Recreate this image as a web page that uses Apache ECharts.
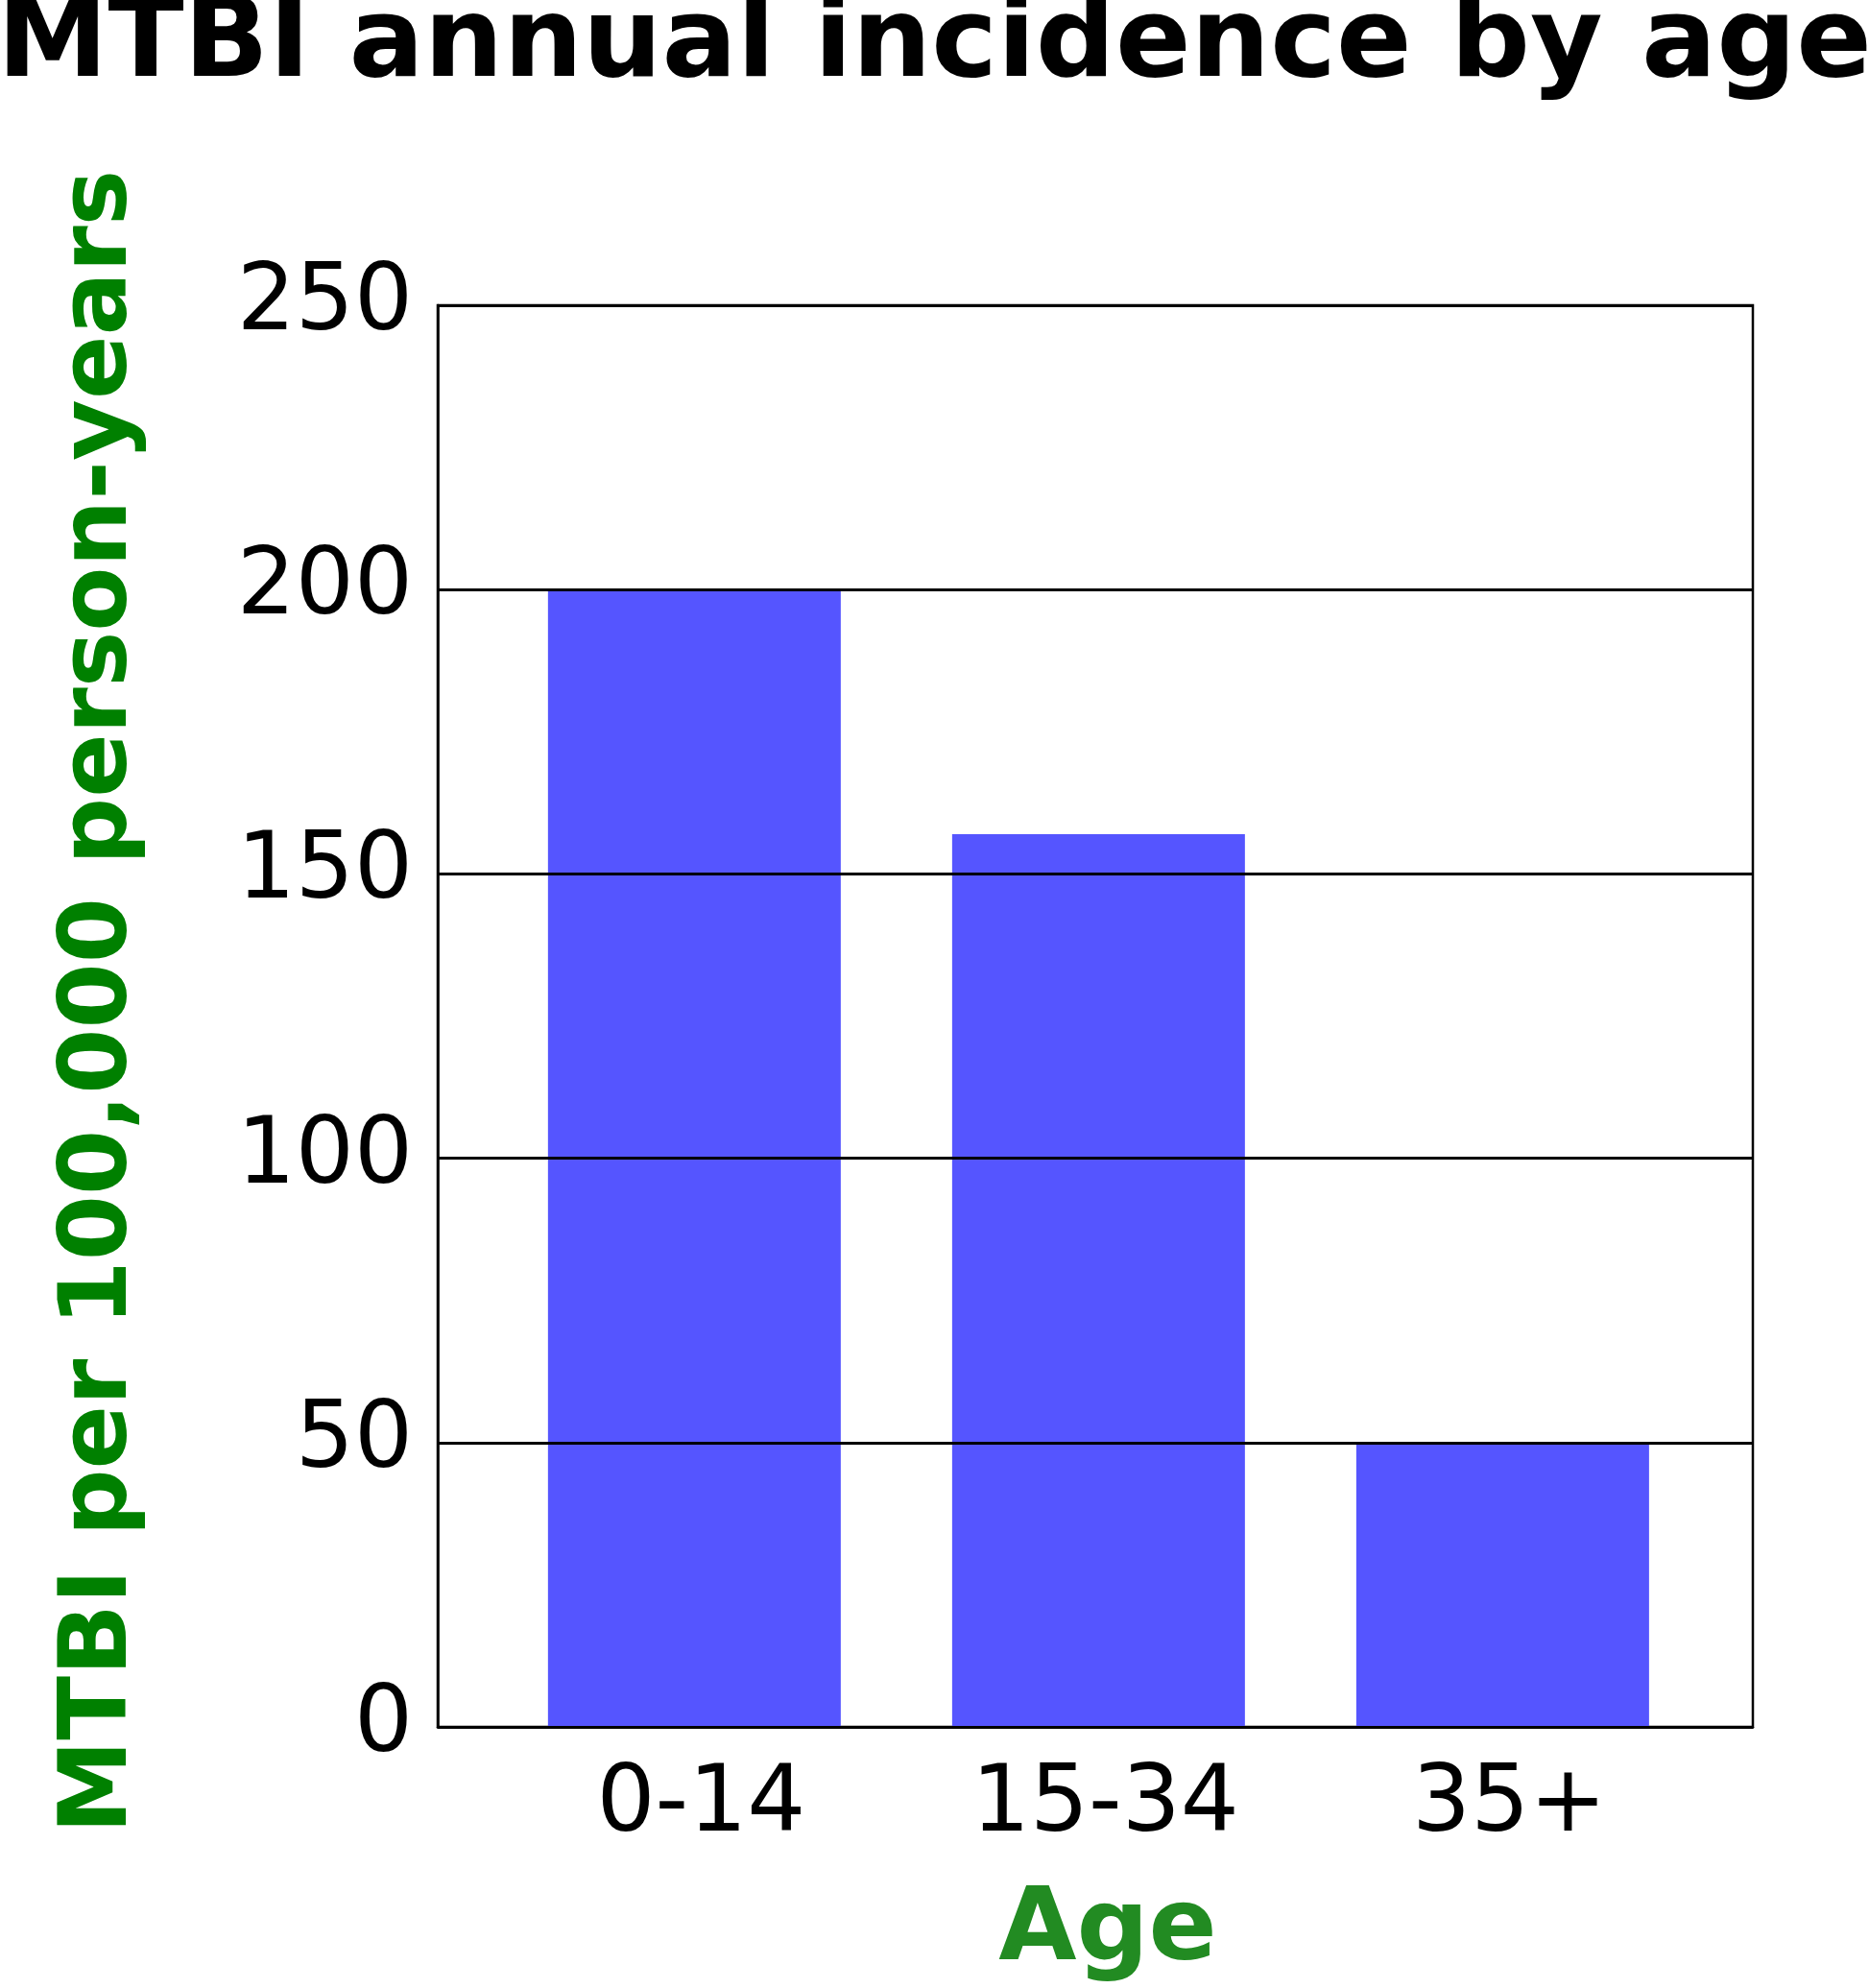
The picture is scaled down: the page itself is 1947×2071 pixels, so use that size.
<!DOCTYPE html>
<html>
<head>
<meta charset="utf-8">
<script src="https://cdn.jsdelivr.net/npm/echarts@6/dist/echarts.min.js"></script>
<style>
html, body { margin: 0; padding: 0; background: #fff; }
#main { width: 1947px; height: 2071px; }
</style>
</head>
<body>
<div id="main"></div>
<script>
// data
var ageGroups = ['0-14', '15-34', '35+'];
var groupPos = [0, 1, 2];
var incidence = [200, 157, 50];
var yTicks = [0, 50, 100, 150, 200, 250];

var chart = echarts.init(document.getElementById('main'));

var seriesData = [];
for (var i = 0; i < ageGroups.length; i++) {
	seriesData.push([groupPos[i], incidence[i]]);
}

var option = {
	backgroundColor: '#ffffff',
	animation: false,
	title: {
		text: 'MTBI annual incidence by age',
		left: 'center',
		top: -14,
		textStyle: {
			fontFamily: 'DejaVu Sans',
			fontWeight: 'bold',
			fontSize: 116,
			color: '#000000'
		}
	},
	grid: {
		left: 456,
		right: 121,
		top: 318,
		bottom: 263,
		show: true,
		borderColor: '#000000',
		borderWidth: 2.5,
		containLabel: false
	},
	xAxis: {
		type: 'value',
		min: -0.635,
		max: 2.619,
		name: 'Age',
		nameLocation: 'middle',
		nameGap: 162,
		nameTextStyle: {
			fontFamily: 'DejaVu Sans',
			fontWeight: 'bold',
			fontSize: 105,
			color: '#228B22',
			padding: [0, 0, 0, 26]
		},
		z: 3,
		axisLine: { show: true, lineStyle: { color: '#000000', width: 2.5 } },
		axisTick: { show: false },
		splitLine: { show: false },
		axisLabel: {
			customValues: groupPos,
			margin: 35,
			fontFamily: 'DejaVu Sans',
			fontSize: 96,
			color: '#000000',
			padding: [0, 0, 0, 14],
			formatter: function (v) {
				var idx = groupPos.indexOf(Math.round(v));
				return idx >= 0 ? ageGroups[idx] : '';
			}
		}
	},
	yAxis: {
		type: 'value',
		min: yTicks[0],
		max: yTicks[yTicks.length - 1],
		interval: 50,
		name: 'MTBI per 100,000 person-years',
		nameLocation: 'middle',
		nameRotate: 90,
		nameGap: 301,
		nameTextStyle: {
			fontFamily: 'DejaVu Sans',
			fontWeight: 'bold',
			fontSize: 98,
			color: '#008000',
			padding: [0, 0, 0, 30]
		},
		z: 3,
		axisLine: { show: true, onZero: false, lineStyle: { color: '#000000', width: 2.5 } },
		axisTick: { show: false },
		splitLine: { show: true, lineStyle: { color: '#000000', width: 3 } },
		axisLabel: {
			margin: 26,
			fontFamily: 'DejaVu Sans',
			fontSize: 96,
			color: '#000000',
			padding: [22, 0, 0, 0]
		}
	},
	series: [{
		type: 'bar',
		data: seriesData,
		barWidth: 305,
		itemStyle: { color: '#5555FF' },
		z: 1
	}]
};
chart.setOption(option);
</script>
</body>
</html>
